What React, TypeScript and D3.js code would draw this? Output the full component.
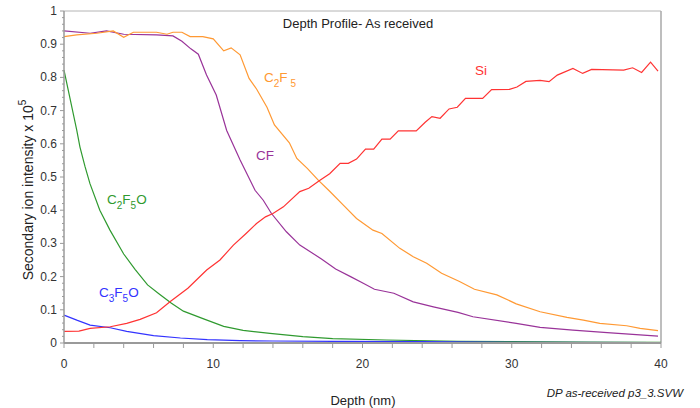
import React from "react";
import * as d3 from "d3";

const siDepth = [0, 1, 1.75, 3.1, 4.2, 5.1, 6.2, 7.1, 8.3, 9.56, 10.45, 11.35, 12.2, 12.9, 13.5, 14.0, 14.7, 15.8, 16.4, 17.15, 17.8, 18.5, 19.05, 19.6, 20.2, 20.75, 21.3, 21.85, 22.4, 23.6, 24.2, 24.65, 25.2, 25.8, 26.35, 26.9, 28.05, 28.65, 29.85, 30.35, 30.95, 31.9, 32.5, 33.05, 34.1, 34.75, 35.35, 37.5, 38.1, 38.7, 39.3, 39.8];
const siValues = [0.035, 0.036, 0.044, 0.049, 0.059, 0.071, 0.091, 0.124, 0.165, 0.22, 0.25, 0.295, 0.33, 0.36, 0.38, 0.39, 0.41, 0.456, 0.466, 0.49, 0.51, 0.541, 0.541, 0.554, 0.584, 0.584, 0.614, 0.614, 0.639, 0.639, 0.665, 0.682, 0.677, 0.705, 0.71, 0.737, 0.737, 0.763, 0.764, 0.771, 0.788, 0.791, 0.787, 0.807, 0.827, 0.812, 0.824, 0.822, 0.829, 0.815, 0.846, 0.819];

const c2f5Depth = [0, 0.85, 2.2, 3.3, 4.0, 4.65, 6.2, 6.9, 7.3, 7.9, 8.45, 9.3, 10.0, 10.7, 11.2, 11.8, 12.4, 12.9, 13.6, 14.1, 15.1, 15.6, 16.3, 17.05, 17.8, 18.7, 19.6, 20.7, 21.3, 22.5, 23.4, 24.3, 25.3, 26.5, 27.5, 29.0, 30.3, 31.9, 33.7, 34.8, 35.9, 37.7, 38.6, 39.8];
const c2f5Values = [0.923, 0.928, 0.933, 0.94, 0.921, 0.936, 0.936, 0.93, 0.936, 0.936, 0.923, 0.923, 0.916, 0.88, 0.889, 0.868, 0.797, 0.765, 0.71, 0.657, 0.603, 0.556, 0.526, 0.49, 0.457, 0.416, 0.375, 0.34, 0.33, 0.285, 0.26, 0.24, 0.21, 0.185, 0.162, 0.145, 0.118, 0.094, 0.077, 0.069, 0.059, 0.052, 0.044, 0.037];

const cfDepth = [0, 1.75, 2.85, 4.0, 6.2, 7.3, 7.9, 8.5, 9.0, 9.55, 10.2, 10.9, 11.8, 12.8, 13.35, 13.9, 14.9, 15.8, 16.5, 17.25, 18.2, 19.2, 20.05, 20.8, 22.1, 23.4, 24.75, 26.4, 27.4, 30.3, 31.9, 34.1, 36.4, 39.8];
const cfValues = [0.94, 0.933, 0.94, 0.93, 0.928, 0.925, 0.909, 0.886, 0.87, 0.807, 0.747, 0.64, 0.551, 0.46, 0.43, 0.39, 0.335, 0.295, 0.275, 0.253, 0.223, 0.2, 0.18, 0.162, 0.15, 0.124, 0.109, 0.092, 0.079, 0.059, 0.047, 0.039, 0.031, 0.021];

const c2f5oDepth = [0, 0.85, 1.07, 1.41, 1.74, 2.4, 3.08, 4.0, 4.76, 5.6, 6.4, 7.2, 8.0, 9.4, 10.7, 12.0, 13.8, 16.0, 18.0, 21.6, 26.4, 30, 35, 40];
const c2f5oValues = [0.822, 0.642, 0.59, 0.531, 0.48, 0.4, 0.34, 0.268, 0.222, 0.175, 0.147, 0.12, 0.096, 0.072, 0.05, 0.038, 0.029, 0.019, 0.013, 0.009, 0.005, 0.004, 0.003, 0.002];

const c3f5oDepth = [0, 0.9, 1.75, 3.1, 4.2, 6.0, 7.8, 9.6, 11.8, 14, 18, 24, 30, 40];
const c3f5oValues = [0.084, 0.068, 0.054, 0.046, 0.035, 0.022, 0.015, 0.01, 0.007, 0.006, 0.005, 0.004, 0.002, 0.001];

const xTickLabels = [0, 10, 20, 30, 40];
const yTickLabels = [0, 0.1, 0.2, 0.3, 0.4, 0.5, 0.6, 0.7, 0.8, 0.9, 1];

const FONT = "Liberation Sans, Arial, sans-serif";

export default function App() {
  const x = d3.scaleLinear().domain([0, 40]).range([64, 661]);
  const y = d3.scaleLinear().domain([0, 1]).range([343, 11]);
  const line = d3
    .line<[number, number]>()
    .x((d) => x(d[0]))
    .y((d) => y(d[1]));
  const zip = (a: number[], b: number[]) => a.map((v, i) => [v, b[i]] as [number, number]);

  const series = [
    { d: zip(c2f5oDepth, c2f5oValues), color: "#2f9a2f" },
    { d: zip(c3f5oDepth, c3f5oValues), color: "#3333ff" },
    { d: zip(cfDepth, cfValues), color: "#993399" },
    { d: zip(c2f5Depth, c2f5Values), color: "#ff9933" },
    { d: zip(siDepth, siValues), color: "#ff3333" },
  ];

  const xMinor = d3.range(0, 40.001, 2);
  const yMinor = d3.range(0, 1.0001, 0.02);
  const axisColor = "#9a9a9a";

  return (
    <svg
      width={700}
      height={408}
      style={{ position: "absolute", left: 0, top: 0, background: "#fff" }}
      fontFamily={FONT}
    >
      <rect x={0} y={0} width={700} height={408} fill="#fff" />
      {/* frame */}
      <line x1={x(0)} x2={x(40)} y1={y(1)} y2={y(1)} stroke="#b4b4b4" strokeWidth={1} />
      <line x1={x(40)} x2={x(40)} y1={y(1)} y2={y(0)} stroke="#a8a8a8" strokeWidth={1.5} />
      {/* x axis */}
      {xMinor.map((t) => (
        <line key={"xm" + t} x1={x(t)} x2={x(t)} y1={y(0)} y2={y(0) + 5} stroke={axisColor} strokeWidth={1} />
      ))}
      {xTickLabels.map((t) => (
        <text key={"xl" + t} x={x(t)} y={368} textAnchor="middle" fontSize={12} fill="#333">
          {t}
        </text>
      ))}
      {/* y axis */}
      {yMinor.map((t, i) => (
        <line
          key={"ym" + i}
          x1={x(0) - (i % 5 === 0 ? 4 : 2)}
          x2={x(0)}
          y1={y(t)}
          y2={y(t)}
          stroke={axisColor}
          strokeWidth={1}
        />
      ))}
      {yTickLabels.map((t) => (
        <text key={"yl" + t} x={57} y={y(t) + 4} textAnchor="end" fontSize={12} fill="#333">
          {t}
        </text>
      ))}
      {/* series */}
      {series.map((s, i) => (
        <path key={i} d={line(s.d) || ""} fill="none" stroke={s.color} strokeWidth={1.2} />
      ))}
      <line x1={x(0)} x2={x(40)} y1={y(0)} y2={y(0)} stroke={axisColor} strokeWidth={2} />
      <line x1={x(0)} x2={x(0)} y1={y(1)} y2={y(0)} stroke={axisColor} strokeWidth={1.5} />

      {/* labels */}
      <text x={358} y={28} textAnchor="middle" fontSize={13} fill="#222">
        Depth Profile- As received
      </text>
      <text x={363} y={405} textAnchor="middle" fontSize={13} fill="#222">
        Depth (nm)
      </text>
      <text x={683} y={397} textAnchor="end" fontSize={11.5} fontStyle="italic" fill="#222">
        DP as-received p3_3.SVW
      </text>
      <text transform="translate(33,190) rotate(-90)" textAnchor="middle" fontSize={14} fill="#222">
        Secondary ion intensity  x 10
        <tspan fontSize={10} dy={-7}>5</tspan>
      </text>

      <text x={264} y={82} fontSize={13.5} fill="#ff9933">
        C<tspan fontSize={10} dy={5}>2</tspan>
        <tspan dy={-5}>F</tspan>
        <tspan fontSize={10} dy={5} dx={3}>5</tspan>
      </text>
      <text x={256} y={160} fontSize={13.5} fill="#993399">
        CF
      </text>
      <text x={475} y={75} fontSize={13.5} fill="#ff3333">
        Si
      </text>
      <text x={107} y={204} fontSize={13.5} fill="#2f9a2f">
        C<tspan fontSize={10} dy={5}>2</tspan>
        <tspan dy={-5}>F</tspan>
        <tspan fontSize={10} dy={5}>5</tspan>
        <tspan dy={-5}>O</tspan>
      </text>
      <text x={99} y={297} fontSize={13.5} fill="#3333ff">
        C<tspan fontSize={10} dy={5}>3</tspan>
        <tspan dy={-5}>F</tspan>
        <tspan fontSize={10} dy={5}>5</tspan>
        <tspan dy={-5}>O</tspan>
      </text>
    </svg>
  );
}
